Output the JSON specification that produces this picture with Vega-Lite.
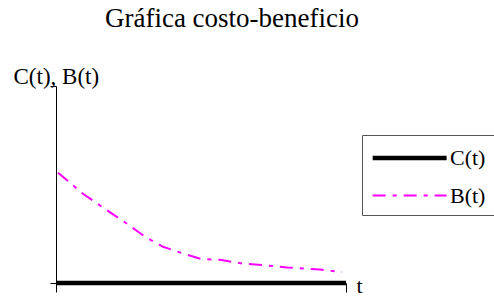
{
  "$schema": "https://vega.github.io/schema/vega-lite/v6.json",
  "autosize": "none",
  "width": 290,
  "height": 197,
  "padding": {"left": 56, "top": 86, "right": 148, "bottom": 13},
  "background": "white",
  "title": {
    "text": "Gráfica costo-beneficio",
    "font": "Liberation Serif",
    "fontSize": 27,
    "fontWeight": "normal",
    "color": "black",
    "anchor": "middle",
    "frame": "group",
    "dx": 31,
    "baseline": "alphabetic",
    "offset": 11
  },
  "data": {
    "values": [
      {"t": 0, "v": 0, "series": "C(t)"},
      {"t": 10, "v": 0, "series": "C(t)"},
      {"t": 0.07, "v": 5.6, "series": "B(t)"},
      {"t": 0.93, "v": 4.53, "series": "B(t)"},
      {"t": 1.93, "v": 3.52, "series": "B(t)"},
      {"t": 2.45, "v": 3.01, "series": "B(t)"},
      {"t": 3.07, "v": 2.35, "series": "B(t)"},
      {"t": 3.69, "v": 1.84, "series": "B(t)"},
      {"t": 4.52, "v": 1.43, "series": "B(t)"},
      {"t": 5.03, "v": 1.21, "series": "B(t)"},
      {"t": 5.66, "v": 1.18, "series": "B(t)"},
      {"t": 6.45, "v": 0.98, "series": "B(t)"},
      {"t": 7.14, "v": 0.91, "series": "B(t)"},
      {"t": 7.97, "v": 0.79, "series": "B(t)"},
      {"t": 9.1, "v": 0.68, "series": "B(t)"},
      {"t": 9.86, "v": 0.56, "series": "B(t)"}
    ]
  },
  "mark": {"type": "line", "clip": false},
  "encoding": {
    "x": {
      "field": "t", "type": "quantitative",
      "scale": {"domain": [0, 10], "nice": false, "zero": false},
      "axis": {
        "title": "t", "titleFont": "Liberation Serif", "titleFontSize": 22, "titleFontWeight": "normal",
        "titleColor": "black", "titleX": 300, "titleY": 9, "titleAlign": "left", "titleBaseline": "alphabetic",
        "labels": false, "grid": false, "values": [0, 10], "tickSize": 9, "tickColor": "black",
        "domainColor": "black", "domainWidth": 1
      }
    },
    "y": {
      "field": "v", "type": "quantitative",
      "scale": {"domain": [0, 10], "nice": false},
      "axis": {
        "title": "C(t), B(t)", "titleFont": "Liberation Serif", "titleFontSize": 23, "titleFontWeight": "normal",
        "titleColor": "black", "titleAngle": 0, "titleX": -43, "titleY": -3, "titleAlign": "left", "titleBaseline": "alphabetic",
        "labels": false, "grid": false, "values": [0, 10], "tickSize": 6, "tickColor": "black",
        "domainColor": "black", "domainWidth": 1
      }
    },
    "color": {
      "field": "series", "type": "nominal",
      "scale": {"domain": ["C(t)", "B(t)"], "range": ["#000000", "#FF00FF"]},
      "legend": {
        "title": null, "orient": "none", "legendX": 306, "legendY": 49,
        "padding": 8, "strokeColor": "#555555", "fillColor": "white",
        "symbolType": "M-1,0H5", "symbolSize": 608,
        "labelFont": "Liberation Serif", "labelFontSize": 22, "labelColor": "black", "labelOffset": 50,
        "rowPadding": 13
      }
    },
    "strokeWidth": {
      "field": "series", "type": "nominal",
      "scale": {"domain": ["C(t)", "B(t)"], "range": [4.5, 2]}
    },
    "strokeDash": {
      "field": "series", "type": "nominal",
      "scale": {"domain": ["C(t)", "B(t)"], "range": [[1, 0], [13, 7, 4, 7]]}
    }
  },
  "config": {"view": {"stroke": null}}
}
